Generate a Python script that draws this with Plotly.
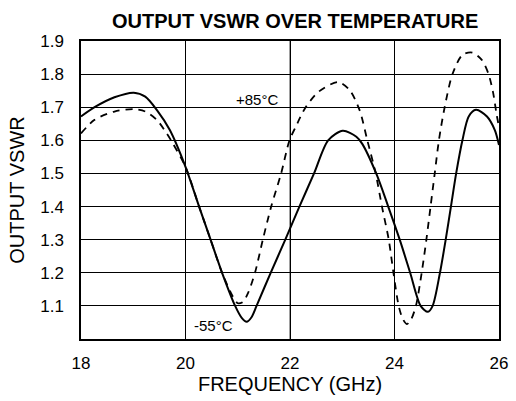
import plotly.graph_objects as go

# -55°C curve (solid)
freq_cold = [18.0, 18.26, 18.64, 19.01, 19.23, 19.45, 19.70, 20.0, 20.26, 20.48, 20.70, 20.95,
             21.08, 21.17, 21.26, 21.36, 21.63, 21.91, 22.18, 22.46, 22.73, 23.01, 23.27, 23.38,
             23.65, 23.88, 24.1, 24.3, 24.5, 24.64, 24.73, 24.87, 24.98, 25.08, 25.18, 25.30,
             25.42, 25.56, 25.77, 25.92, 26.0]
vswr_cold = [1.672, 1.70, 1.73, 1.744, 1.732, 1.692, 1.631, 1.52, 1.40, 1.30, 1.20, 1.10,
             1.063, 1.052, 1.065, 1.10, 1.20, 1.30, 1.40, 1.50, 1.60, 1.629, 1.611, 1.59,
             1.50, 1.40, 1.30, 1.20, 1.10, 1.082, 1.10, 1.20, 1.30, 1.40, 1.50, 1.60,
             1.672, 1.692, 1.672, 1.631, 1.586]

# +85°C curve (dashed)
freq_hot = [18.0, 18.26, 18.64, 19.01, 19.23, 19.45, 19.64, 19.76, 20.0, 20.26, 20.48, 20.70,
            20.9, 21.0, 21.1, 21.2, 21.33, 21.48, 21.64, 21.83, 21.99, 22.11, 22.30, 22.55,
            22.92, 23.14, 23.33, 23.48, 23.64, 23.76, 23.89, 23.98, 24.08, 24.16, 24.24, 24.32,
            24.41, 24.52, 24.61, 24.69, 24.77, 24.85, 24.96, 25.11, 25.30, 25.49, 25.67, 25.80,
            25.89, 25.95, 26.0]
vswr_hot = [1.621, 1.662, 1.687, 1.694, 1.687, 1.662, 1.621, 1.59, 1.52, 1.40, 1.30, 1.20,
            1.13, 1.108, 1.112, 1.14, 1.20, 1.30, 1.40, 1.50, 1.60, 1.641, 1.70, 1.747,
            1.776, 1.752, 1.692, 1.60, 1.50, 1.40, 1.30, 1.20, 1.10, 1.06, 1.045, 1.06,
            1.10, 1.20, 1.30, 1.40, 1.50, 1.60, 1.70, 1.80, 1.858, 1.865, 1.843, 1.80,
            1.742, 1.682, 1.64]

y_ticks = [1.1, 1.2, 1.3, 1.4, 1.5, 1.6, 1.7, 1.8, 1.9]
x_ticks = [18, 20, 22, 24, 26]

fig = go.Figure()

# the 22 GHz grid line is printed grey in the original
fig.add_vline(x=22, line=dict(color='#808080', width=1.5), layer='below')

fig.add_trace(go.Scatter(x=freq_hot, y=vswr_hot, mode='lines', line_shape='spline',
                         line=dict(color='black', width=1.8, dash='7px,6px', smoothing=0.8),
                         name='+85°C'))
fig.add_trace(go.Scatter(x=freq_cold, y=vswr_cold, mode='lines', line_shape='spline',
                         line=dict(color='black', width=2, smoothing=0.8), name='-55°C'))

fig.add_annotation(x=21.8, y=1.722, text='+85°C', showarrow=False, xanchor='right',
                   font=dict(size=15, color='black'))
fig.add_annotation(x=20.12, y=1.042, text='-55°C', showarrow=False, xanchor='left',
                   font=dict(size=15, color='black'))

fig.update_layout(
    width=516, height=401,
    margin=dict(l=81, r=8, t=41, b=62),
    paper_bgcolor='white', plot_bgcolor='white',
    showlegend=False,
    font=dict(family='Liberation Sans, Arial, sans-serif', color='black', size=17),
    title=dict(text='<b>OUTPUT VSWR OVER TEMPERATURE</b>',
               x=0.572, xanchor='center', y=0.948, yanchor='middle',
               font=dict(family='Liberation Sans, Arial, sans-serif', size=20)),
)
fig.update_xaxes(range=[18, 26], tickvals=x_ticks, showgrid=True, gridcolor='black', gridwidth=1,
                 showline=True, linecolor='black', linewidth=1.5, mirror=True, ticks='',
                 ticklabelstandoff=8, zeroline=False,
                 title=dict(text='FREQUENCY (GHz)', standoff=4))
fig.update_yaxes(range=[1.0, 1.9], tickvals=y_ticks, ticktext=[f'{v:.1f}' for v in y_ticks],
                 showgrid=True, gridcolor='black', gridwidth=1,
                 showline=True, linecolor='black', linewidth=1.5, mirror=True, ticks='',
                 ticklabelstandoff=12, zeroline=False,
                 title=dict(text='OUTPUT VSWR', standoff=10))

fig.write_html("out.html", config={'displayModeBar': False},
               post_script="document.body.style.margin='0';")
